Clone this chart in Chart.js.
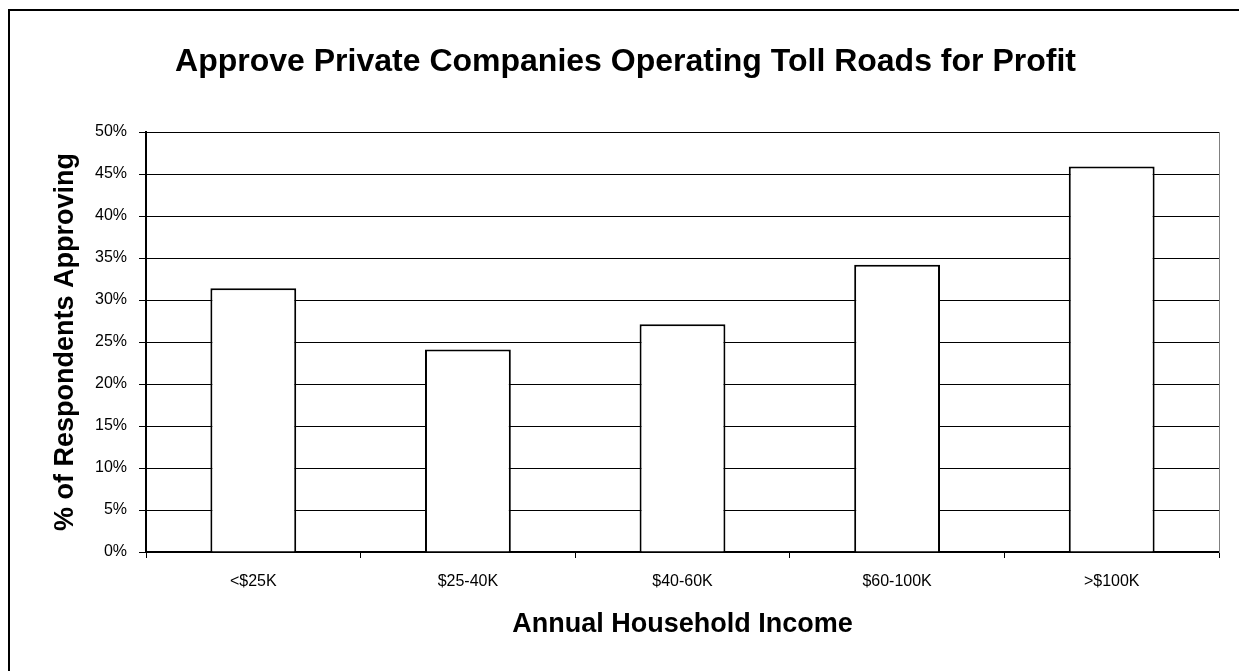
<!DOCTYPE html>
<html>
<head>
<meta charset="utf-8">
<script src="https://cdn.jsdelivr.net/npm/chart.js@4/dist/chart.umd.min.js"></script>
<style>
  html, body { margin: 0; padding: 0; background: #ffffff; }
  #wrap { width: 1239px; height: 671px; position: relative; }
</style>
</head>
<body>
<div id="wrap"><canvas id="c" width="1239" height="671"></canvas></div>
<script>
// Survey share approving private for-profit toll road operation, by income band
const incomeBands = ['<$25K', '$25-40K', '$40-60K', '$60-100K', '>$100K'];
const approvingPct = [31.4, 24.1, 27.1, 34.2, 45.9];
const pctTickStep = 5;
const pctAxisMax = 50;

const chartTitle = 'Approve Private Companies Operating Toll Roads for Profit';
const xAxisTitle = 'Annual Household Income';
const yAxisTitle = '% of Respondents Approving';

const FONT = "Arial, 'Liberation Sans', Helvetica, sans-serif";

// Outer frame around the whole chart object
const framePlugin = {
  id: 'frame',
  beforeDraw(chart) {
    const ctx = chart.ctx;
    ctx.save();
    ctx.fillStyle = '#ffffff';
    ctx.fillRect(0, 0, chart.width, chart.height);
    ctx.strokeStyle = '#000000';
    ctx.lineWidth = 2;
    ctx.strokeRect(9, 10, chart.width + 40, chart.height + 40);
    ctx.restore();
  }
};

new Chart(document.getElementById('c'), {
  type: 'bar',
  data: {
    labels: incomeBands,
    datasets: [{
      data: approvingPct,
      backgroundColor: '#ffffff',
      borderColor: '#000000',
      borderWidth: 2,
      barPercentage: 0.4,
      categoryPercentage: 1.0
    }]
  },
  options: {
    responsive: false,
    animation: false,
    layout: { padding: { left: 12, right: 0, top: 0, bottom: 0 } },
    plugins: {
      legend: { display: false },
      tooltip: { enabled: false },
      title: {
        display: true,
        text: chartTitle,
        color: '#000000',
        font: { family: FONT, size: 32, weight: 'bold' },
        padding: { top: 42.8, bottom: 50.8 }
      }
    },
    scales: {
      x: {
        offset: true,
        grid: {
          offset: true,
          drawOnChartArea: false,
          drawTicks: true,
          tickLength: 6,
          color: '#000000'
        },
        border: { display: true, color: '#000000', width: 2 },
        ticks: {
          color: '#000000',
          font: { family: FONT, size: 16 },
          padding: 14,
          maxRotation: 0
        },
        title: {
          display: true,
          text: xAxisTitle,
          color: '#000000',
          font: { family: FONT, size: 27, weight: 'bold' },
          padding: { top: 0, bottom: 29.8 }
        },
        afterFit(scale) { scale.height = 119; }
      },
      y: {
        min: 0,
        max: pctAxisMax,
        grid: {
          color: '#000000',
          lineWidth: 1,
          drawTicks: true,
          tickLength: 7
        },
        border: { display: true, color: '#000000', width: 2 },
        ticks: {
          stepSize: pctTickStep,
          color: '#000000',
          font: { family: FONT, size: 16 },
          padding: 12,
          callback: (v) => v + '%'
        },
        title: {
          display: true,
          text: yAxisTitle,
          color: '#000000',
          font: { family: FONT, size: 27, weight: 'bold' },
          padding: { top: 37.8, bottom: 0 }
        },
        afterFit(scale) { scale.width = 134; }
      },
      // right-hand edge of the plot area
      edge: {
        type: 'linear',
        position: 'right',
        grid: { display: false, drawTicks: false },
        ticks: { display: false },
        border: { display: true, color: '#808080', width: 1 },
        afterFit(scale) { scale.width = 20; }
      }
    }
  },
  plugins: [framePlugin]
});
</script>
</body>
</html>
